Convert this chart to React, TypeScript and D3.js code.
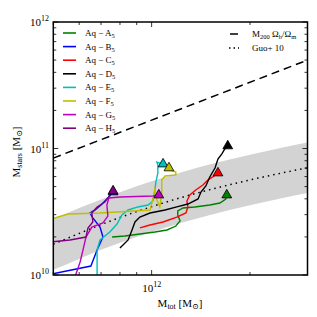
import React from 'react';
import * as d3 from 'd3';

const W = 317;
const H = 317;
const plot = { left: 53.3, right: 307.5, top: 22, bottom: 275 };
const FONT = "'Liberation Serif', 'DejaVu Serif', serif";

// halo names and colours, A..H
const haloNames = ['A', 'B', 'C', 'D', 'E', 'F', 'G', 'H'];
const haloColors = ['#008000', '#0000ff', '#ff0000', '#000000', '#00bfbf', '#bfbf00', '#bf00bf', '#800080'];

// tracks, log10 of M_tot and M_stars
const lgMtotA = [11.879, 11.918, 11.964, 12.010, 12.047, 12.074, 12.087, 12.080, 12.080, 12.096, 12.132, 12.178, 12.209, 12.227, 12.230];
const lgMstarA = [10.300, 10.308, 10.324, 10.340, 10.356, 10.387, 10.427, 10.474, 10.506, 10.530, 10.538, 10.553, 10.569, 10.601, 10.632];

const lgMtotB = [11.690, 11.814, 11.833, 11.851, 11.842, 11.820, 11.811, 11.827, 11.845, 11.866, 11.882];
const lgMstarB = [10.005, 10.071, 10.198, 10.300, 10.379, 10.451, 10.490, 10.514, 10.553, 10.609, 10.656];

const lgMtotC = [11.964, 11.995, 12.035, 12.077, 12.105, 12.111, 12.108, 12.117, 12.135, 12.157, 12.172, 12.187, 12.203];
const lgMstarC = [10.372, 10.395, 10.419, 10.458, 10.490, 10.538, 10.585, 10.632, 10.672, 10.711, 10.751, 10.775, 10.806];

const lgMtotD = [11.903, 11.928, 11.940, 11.949, 11.964, 11.995, 12.041, 12.077, 12.111, 12.142, 12.151, 12.166, 12.178, 12.194, 12.203, 12.215, 12.224, 12.233];
const lgMstarD = [10.213, 10.277, 10.356, 10.419, 10.458, 10.490, 10.514, 10.538, 10.561, 10.601, 10.656, 10.704, 10.775, 10.846, 10.917, 10.957, 10.996, 11.020];

const lgMtotE = [11.833, 11.833, 11.842, 11.872, 11.894, 11.909, 11.928, 11.958, 11.989, 12.004, 12.010, 12.013, 12.019, 12.019, 12.016, 12.035];
const lgMstarE = [9.960, 10.198, 10.277, 10.340, 10.403, 10.474, 10.514, 10.538, 10.553, 10.585, 10.672, 10.735, 10.806, 10.870, 10.893, 10.877];

const lgMtotF = [11.690, 11.744, 11.842, 11.995, 12.007, 12.010, 12.016, 12.025, 12.031, 12.031, 12.041, 12.074, 12.074, 12.056, 12.053];
const lgMstarF = [10.440, 10.482, 10.490, 10.514, 10.632, 10.688, 10.593, 10.538, 10.648, 10.751, 10.783, 10.791, 10.814, 10.830, 10.846];

const lgMtotG = [11.762, 11.781, 11.790, 11.799, 11.817, 11.851, 11.866, 11.863, 11.869, 11.903, 12.004, 12.022];
const lgMstarG = [9.960, 10.103, 10.198, 10.300, 10.379, 10.411, 10.466, 10.553, 10.609, 10.617, 10.625, 10.632];

const lgMtotH = [11.690, 11.750, 11.799, 11.805, 11.820, 11.817, 11.833, 11.857, 11.882];
const lgMstarH = [10.261, 10.277, 10.300, 10.372, 10.419, 10.490, 10.538, 10.577, 10.664];

const trackMtot = [lgMtotA, lgMtotB, lgMtotC, lgMtotD, lgMtotE, lgMtotF, lgMtotG, lgMtotH];
const trackMstar = [lgMstarA, lgMstarB, lgMstarC, lgMstarD, lgMstarE, lgMstarF, lgMstarG, lgMstarH];

// M200 * Ob/Om line
const baryonMtot = [5e11, 3e12];
const baryonMstar = [8.4e10, 5.0e11];

// Guo+10 relation and its scatter band
const guoMtot = [5e11, 6e11, 7e11, 8e11, 1e12, 1.25e12, 1.5e12, 2e12, 2.5e12, 3e12];
const guoMstar = [1.75e10, 2.13e10, 2.50e10, 2.85e10, 3.47e10, 4.14e10, 4.71e10, 5.64e10, 6.40e10, 7.04e10];
const guoLow = [1.10e10, 1.34e10, 1.58e10, 1.80e10, 2.19e10, 2.61e10, 2.97e10, 3.56e10, 4.04e10, 4.44e10];
const guoHigh = [2.77e10, 3.38e10, 3.96e10, 4.52e10, 5.50e10, 6.56e10, 7.47e10, 8.94e10, 1.014e11, 1.116e11];

const App: React.FC = () => {
    const x = d3.scaleLog().domain([5e11, 3e12]).range([plot.left, plot.right]);
    const y = d3.scaleLog().domain([1e10, 1e12]).range([plot.bottom, plot.top]);

    const line = d3.line<[number, number]>()
        .x(d => x(d[0]))
        .y(d => y(d[1]));

    const band = d3.area<number>()
        .x(i => x(guoMtot[i]))
        .y0(i => y(guoLow[i]))
        .y1(i => y(guoHigh[i]))
        .curve(d3.curveMonotoneX);

    const guoLine = d3.line<number>()
        .x(i => x(guoMtot[i]))
        .y(i => y(guoMstar[i]))
        .curve(d3.curveMonotoneX);

    const tri = d3.symbol().type(d3.symbolTriangle).size(42)();

    const xTicks = x.ticks();
    const yTicks = y.ticks();
    const isMajor = (v: number) => Math.abs(Math.log10(v) - Math.round(Math.log10(v))) < 1e-6;

    const tracks = trackMtot.map((mt, k) =>
        mt.map((v, i) => [Math.pow(10, v), Math.pow(10, trackMstar[k][i])] as [number, number]));

    return (
        <svg width={W} height={H} style={{ position: 'absolute', left: 0, top: 0, background: '#fff' }}
            fontFamily={FONT}>
            <defs>
                <clipPath id="plot-clip">
                    <rect x={plot.left} y={plot.top} width={plot.right - plot.left} height={plot.bottom - plot.top} />
                </clipPath>
            </defs>

            <g clipPath="url(#plot-clip)">
                <path d={band(guoMtot.map((_, i) => i)) || ''} fill="#d3d3d3" stroke="none" />
                <path d={guoLine(guoMtot.map((_, i) => i)) || ''} fill="none" stroke="#000"
                    strokeWidth={1.5} strokeDasharray="1.5,4" />
                <path d={line(baryonMtot.map((m, i) => [m, baryonMstar[i]])) || ''} fill="none" stroke="#000"
                    strokeWidth={1.5} strokeDasharray="8,5" />
                {tracks.map((pts, k) => (
                    <path key={'t' + k} d={line(pts) || ''} fill="none" stroke={haloColors[k]} strokeWidth={1.4} />
                ))}
            </g>

            {tracks.map((pts, k) => {
                const last = pts[pts.length - 1];
                return (
                    <path key={'m' + k} d={tri || ''} transform={`translate(${x(last[0])},${y(last[1])})`}
                        fill={haloColors[k]} stroke="#000" strokeWidth={0.8} />
                );
            })}

            {/* frame */}
            <rect x={plot.left} y={plot.top} width={plot.right - plot.left} height={plot.bottom - plot.top}
                fill="none" stroke="#000" strokeWidth={1.5} />

            {/* ticks, all pointing in */}
            {xTicks.map((v, i) => {
                const len = isMajor(v) ? 5 : 3;
                const px = x(v);
                return (
                    <g key={'xt' + i} stroke="#000" strokeWidth={0.8}>
                        <line x1={px} x2={px} y1={plot.bottom} y2={plot.bottom - len} />
                        <line x1={px} x2={px} y1={plot.top} y2={plot.top + len} />
                    </g>
                );
            })}
            {yTicks.map((v, i) => {
                const len = isMajor(v) ? 5 : 3;
                const py = y(v);
                return (
                    <g key={'yt' + i} stroke="#000" strokeWidth={0.8}>
                        <line x1={plot.left} x2={plot.left + len} y1={py} y2={py} />
                        <line x1={plot.right} x2={plot.right - len} y1={py} y2={py} />
                    </g>
                );
            })}

            {/* tick labels */}
            {yTicks.filter(isMajor).map((v, i) => (
                <text key={'yl' + i} x={49} y={y(v) + 4} textAnchor="end" fontSize={11}>
                    10<tspan fontSize={8} dy={-5}>{Math.round(Math.log10(v))}</tspan>
                </text>
            ))}
            {xTicks.filter(isMajor).map((v, i) => (
                <text key={'xl' + i} x={x(v)} y={292} textAnchor="middle" fontSize={11}>
                    10<tspan fontSize={8} dy={-5}>{Math.round(Math.log10(v))}</tspan>
                </text>
            ))}

            {/* axis labels */}
            <text x={180} y={307} textAnchor="middle" fontSize={11}>
                M<tspan fontSize={8} dy={2}>tot</tspan><tspan dy={-2}> [M</tspan><tspan fontSize={8} dy={2}>⊙</tspan><tspan dy={-2}>]</tspan>
            </text>
            <text transform="translate(20,152) rotate(-90)" textAnchor="middle" fontSize={11}>
                M<tspan fontSize={8} dy={2}>stars</tspan><tspan dy={-2}> [M</tspan><tspan fontSize={8} dy={2}>⊙</tspan><tspan dy={-2}>]</tspan>
            </text>

            {/* legend, halos */}
            {haloNames.map((n, k) => {
                const ly = 33 + k * 13.6;
                return (
                    <g key={'lg' + k}>
                        <line x1={63} x2={76} y1={ly} y2={ly} stroke={haloColors[k]} strokeWidth={1.6} />
                        <text x={85} y={ly + 3} fontSize={9}>
                            Aq − {n}<tspan fontSize={6.5} dy={2}>5</tspan>
                        </text>
                    </g>
                );
            })}

            {/* legend, reference lines */}
            <line x1={230} x2={238} y1={34} y2={34} stroke="#000" strokeWidth={1.5} />
            <text x={252} y={37} fontSize={9}>
                M<tspan fontSize={6.5} dy={2}>200</tspan><tspan dy={-2}> Ω</tspan><tspan fontSize={6.5} dy={2}>b</tspan><tspan dy={-2}>/Ω</tspan><tspan fontSize={6.5} dy={2}>m</tspan>
            </text>
            <line x1={229} x2={239} y1={48} y2={48} stroke="#000" strokeWidth={1.5} strokeDasharray="1.5,3" />
            <text x={252} y={51} fontSize={9}>Guo+ 10</text>
        </svg>
    );
};

export default App;
